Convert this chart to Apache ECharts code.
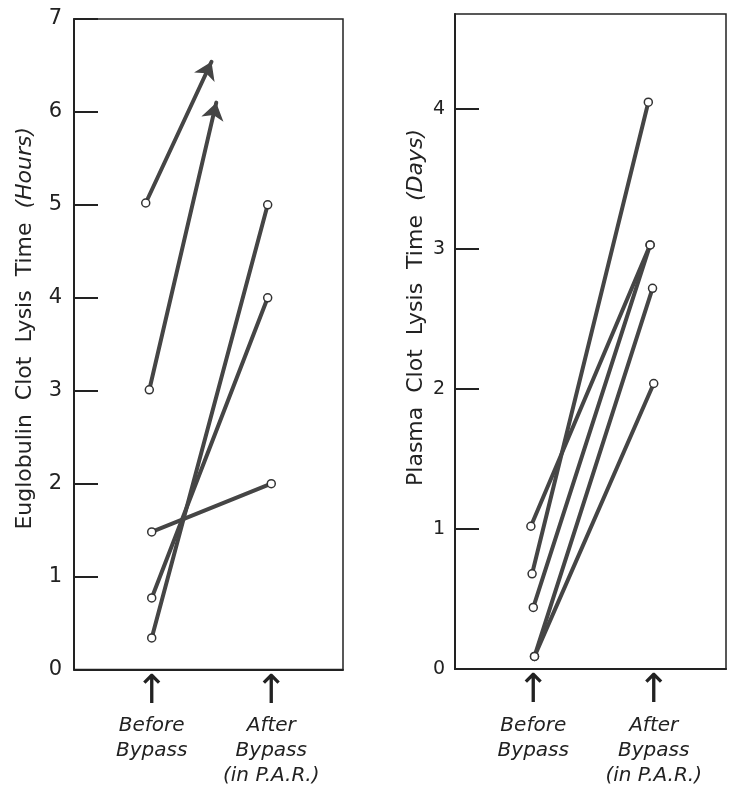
<!DOCTYPE html>
<html>
<head>
<meta charset="utf-8">
<script src="https://cdn.jsdelivr.net/npm/echarts@6/dist/echarts.min.js"></script>
<style>
  html, body { margin: 0; padding: 0; background: #fff; }
  #chart { width: 729px; height: 786px; }
</style>
</head>
<body>
<div id="chart"></div>
<script>
  // x: 0 = before bypass, 1 = after bypass (in P.A.R.)
  var xTickValues = [0, 1];
  var xTickLabels = ['Before\nBypass', 'After\nBypass\n(in P.A.R.)'];

  // euglobulin clot lysis time, hours (one entry per patient)
  var leftBeforeX = [-0.05, -0.02, 0, 0, 0];
  var leftBeforeY = [5.02, 3.01, 1.48, 0.77, 0.34];
  var leftAfterX = [0.50, 0.54, 1.0, 0.97, 0.97];
  var leftAfterY = [6.54, 6.10, 2.0, 4.0, 5.0];
  var leftOffScale = [true, true, false, false, false];

  // plasma clot lysis time, days
  var rightBeforeX = [-0.02, -0.01, 0, 0.01, 0.01];
  var rightBeforeY = [1.02, 0.68, 0.44, 0.09, 0.09];
  var rightAfterX = [0.97, 0.955, 0.97, 0.99, 1.0];
  var rightAfterY = [3.03, 4.05, 3.03, 2.72, 2.04];
  var rightOffScale = [false, false, false, false, false];

  var ink = '#222';
  var lineInk = '#454545';
  var font = 'DejaVu Sans';

  function segments(bx, by, ax, ay, off) {
    var plain = [], arrows = [];
    for (var i = 0; i < bx.length; i++) {
      var item = { coords: [[bx[i], by[i]], [ax[i], ay[i]]] };
      (off[i] ? arrows : plain).push(item);
    }
    return { plain: plain, arrows: arrows };
  }

  function circles(bx, by, ax, ay, off) {
    var pts = [];
    for (var i = 0; i < bx.length; i++) {
      pts.push([bx[i], by[i]]);
      if (!off[i]) pts.push([ax[i], ay[i]]);
    }
    return pts;
  }

  function xAxisFor(idx) {
    return {
      type: 'value', gridIndex: idx, min: -0.65, max: 1.6,
      splitLine: { show: false },
      axisLine: { onZero: false, lineStyle: { color: ink, width: 2 } },
      axisTick: { show: false },
      axisLabel: {
        customValues: xTickValues,
        margin: 2,
        formatter: function (v) {
          var k = xTickValues.indexOf(v);
          if (k < 0) return '';
          var lines = xTickLabels[k].split('\n');
          return '{arr|↑}\n' + lines.map(function (s) { return '{t|' + s + '}'; }).join('\n');
        },
        rich: {
          arr: { fontSize: 40, lineHeight: 42, color: ink, fontFamily: font },
          t: { fontSize: 20, lineHeight: 25, fontStyle: 'italic', color: ink, fontFamily: font }
        }
      }
    };
  }

  function yAxisFor(idx, max, name, labelSize, margin, gap, shift, showMax) {
    return {
      type: 'value', gridIndex: idx, min: 0, max: max, interval: 1,
      splitLine: { show: false },
      axisLine: { onZero: false, lineStyle: { color: ink, width: 2 } },
      axisTick: { inside: true, length: 24, lineStyle: { color: ink, width: 2 } },
      axisLabel: { fontSize: labelSize, margin: margin, color: ink, fontFamily: font, showMaxLabel: showMax },
      name: name,
      nameLocation: 'middle',
      nameRotate: 90,
      nameGap: gap,
      nameTextStyle: {
        fontSize: 22, color: ink, fontFamily: font,
        padding: [0, 0, 0, shift],
        rich: { it: { fontSize: 22, fontStyle: 'italic', color: ink, fontFamily: font } }
      }
    };
  }

  var L = segments(leftBeforeX, leftBeforeY, leftAfterX, leftAfterY, leftOffScale);
  var R = segments(rightBeforeX, rightBeforeY, rightAfterX, rightAfterY, rightOffScale);

  function lineSeries(data, xi, arrow) {
    return {
      type: 'lines', coordinateSystem: 'cartesian2d',
      xAxisIndex: xi, yAxisIndex: xi,
      symbol: arrow ? ['none', 'arrow'] : ['none', 'none'],
      symbolSize: [13, 17],
      lineStyle: { color: lineInk, width: 4, opacity: 1, cap: 'round' },
      itemStyle: { color: lineInk },
      data: data, z: 2
    };
  }

  function dotSeries(data, xi) {
    return {
      type: 'scatter', xAxisIndex: xi, yAxisIndex: xi,
      symbol: 'circle', symbolSize: 8,
      itemStyle: { color: '#fff', borderColor: '#333', borderWidth: 1.5, opacity: 1 },
      data: data, z: 5, silent: true
    };
  }

  var chart = echarts.init(document.getElementById('chart'));
  chart.setOption({
    animation: false,
    backgroundColor: '#fff',
    grid: [
      { left: 74, top: 19, width: 269, height: 653, show: true, borderColor: ink, borderWidth: 1.5 },
      { left: 455, top: 14, width: 271, height: 655, show: true, borderColor: ink, borderWidth: 1.5 }
    ],
    xAxis: [xAxisFor(0), xAxisFor(1)],
    yAxis: [
      yAxisFor(0, 7, 'Euglobulin  Clot  Lysis  Time  {it|(Hours)}', 21, 12, 38, 32, true),
      yAxisFor(1, 4.68, 'Plasma  Clot  Lysis  Time  {it|(Days)}', 19, 10, 28, 68, false)
    ],
    series: [
      lineSeries(L.plain, 0, false),
      lineSeries(L.arrows, 0, true),
      dotSeries(circles(leftBeforeX, leftBeforeY, leftAfterX, leftAfterY, leftOffScale), 0),
      lineSeries(R.plain, 1, false),
      lineSeries(R.arrows, 1, true),
      dotSeries(circles(rightBeforeX, rightBeforeY, rightAfterX, rightAfterY, rightOffScale), 1)
    ]
  });
</script>
</body>
</html>
